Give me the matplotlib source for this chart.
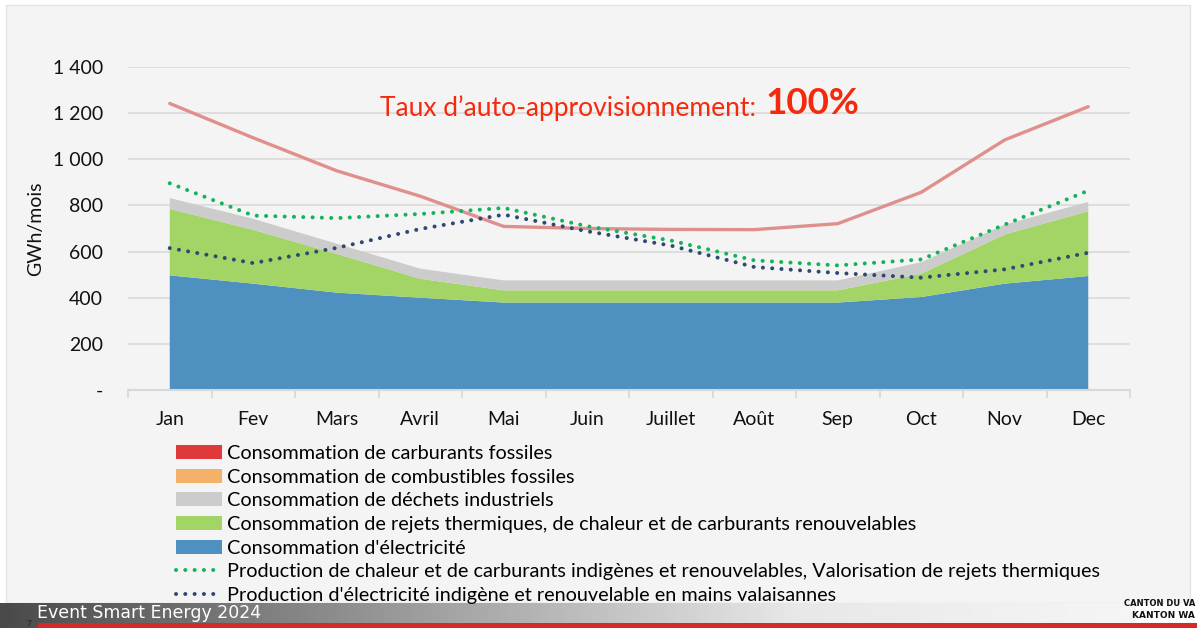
import numpy as np
import matplotlib.pyplot as plt
from matplotlib.colors import LinearSegmentedColormap
from matplotlib.patches import Patch, Rectangle
from matplotlib.lines import Line2D

months = ["Jan", "Fev", "Mars", "Avril", "Mai", "Juin", "Juillet", "Août", "Sep", "Oct", "Nov", "Dec"]

# consommation (GWh/mois), empilée
elec = [497, 461, 422, 400, 379, 379, 379, 379, 379, 403, 461, 494]
rejets = [288, 233, 168, 82, 53, 53, 53, 53, 53, 101, 213, 281]
dechets = [47, 48, 44, 44, 43, 43, 43, 43, 43, 50, 43, 40]
combustibles = [0] * 12
carburants = [0] * 12

# courbes
demande = [1242, 1093, 950, 840, 709, 700, 696, 695, 721, 857, 1084, 1228]
prod_chaleur = [896, 756, 745, 763, 789, 710, 648, 562, 540, 566, 717, 864]
prod_elec = [615, 550, 616, 698, 760, 688, 626, 533, 507, 487, 523, 595]

yticks = [0, 200, 400, 600, 800, 1000, 1200, 1400]
ylabels = ["-", "200", "400", "600", "800", "1 000", "1 200", "1 400"]

c_elec = "#4e90c0"
c_rejets = "#a2d566"
c_dechets = "#cccccc"
c_comb = "#f4b16a"
c_carb = "#e0393a"
c_demande = "#e0908c"
c_chaleur = "#12b35a"
c_prod_elec = "#2e4a70"
dots = (0, (0.01, 2.3))
dot_lw = 2.9

plt.rcParams['font.family'] = ['Lato', 'DejaVu Sans']

fig = plt.figure(figsize=(11.97, 6.28), dpi=100)
fig.patch.set_facecolor("white")

# panneau gris clair
fig.patches.append(Rectangle((6 / 1197, 25 / 628), 1184 / 1197, 598 / 628, transform=fig.transFigure,
                             facecolor="#f4f4f4", edgecolor="#e4e4e4", lw=1, zorder=-10))

ax = fig.add_axes([128 / 1197, 1 - 390 / 628, 1002 / 1197, 323 / 628])
ax.set_facecolor("none")

x = np.arange(len(months))
ax.stackplot(x, elec, rejets, dechets, combustibles, carburants,
             colors=[c_elec, c_rejets, c_dechets, c_comb, c_carb], lw=0, zorder=2)
ax.plot(x, demande, color=c_demande, lw=2.4, zorder=3, solid_capstyle="round")
ax.plot(x, prod_chaleur, color=c_chaleur, lw=dot_lw, ls=dots, dash_capstyle="round", zorder=4)
ax.plot(x, prod_elec, color=c_prod_elec, lw=dot_lw, ls=dots, dash_capstyle="round", zorder=4)

ax.set_xlim(-0.5, 11.5)
ax.set_ylim(0, 1400)
ax.set_yticks(yticks)
ax.set_yticklabels(ylabels, fontsize=14, color="#111111")
ax.set_xticks(x)
ax.set_xticklabels(months, fontsize=14, color="#111111")
ax.set_xticks(np.arange(-0.5, 12, 1), minor=True)
ax.tick_params(axis="x", which="major", length=0, pad=15)
ax.tick_params(axis="x", which="minor", length=6, color="#d8d8d8", width=1.2)
ax.tick_params(axis="y", length=0, pad=18)
ax.grid(axis="y", color="#dedede", lw=1.5, zorder=0)
for s in ["top", "right", "left"]:
    ax.spines[s].set_visible(False)
ax.spines["bottom"].set_color("#d8d8d8")
ax.spines["bottom"].set_linewidth(1.5)
ax.set_ylabel("GWh/mois", fontsize=14, color="#111111", labelpad=6)

fig.text(380 / 1197, 1 - 108 / 628, "Taux d\u2019auto-approvisionnement:", fontsize=19,
         color="#f52a0d", va="center", ha="left")
fig.text(766 / 1197, 1 - 104 / 628, "100%", fontsize=26.5, fontweight="bold",
         color="#f52a0d", va="center", ha="left")

handles = [
    Patch(facecolor=c_carb),
    Patch(facecolor=c_comb),
    Patch(facecolor=c_dechets),
    Patch(facecolor=c_rejets),
    Patch(facecolor=c_elec),
    Line2D([], [], color=c_chaleur, lw=dot_lw, ls=dots, dash_capstyle="round"),
    Line2D([], [], color=c_prod_elec, lw=dot_lw, ls=dots, dash_capstyle="round"),
]
labels = [
    "Consommation de carburants fossiles",
    "Consommation de combustibles fossiles",
    "Consommation de déchets industriels",
    "Consommation de rejets thermiques, de chaleur et de carburants renouvelables",
    "Consommation d'électricité",
    "Production de chaleur et de carburants indigènes et renouvelables, Valorisation de rejets thermiques",
    "Production d'électricité indigène et renouvelable en mains valaisannes",
]
fig.legend(handles, labels, loc="upper left", bbox_to_anchor=(176 / 1197, 1 - 445 / 628),
           frameon=False, fontsize=14.3, handlelength=2.3, handleheight=0.7,
           handletextpad=0.25, labelspacing=0.335, borderpad=0, borderaxespad=0)

# bandeau du bas
bax = fig.add_axes([0, 0, 1, 25 / 628])
grad = np.linspace(0, 1, 400).reshape(1, -1)
cmap = LinearSegmentedColormap.from_list("g", ["#4a4a4a", "#9a9a9a", "#e8e8e8", "#f8f8f8"])
bax.imshow(grad, aspect="auto", cmap=cmap, extent=[0, 1, 0, 1])
bax.add_patch(Rectangle((38 / 1197, 0.02), 1, 5 / 25, color="#d42a2a", lw=0))
bax.add_patch(Rectangle((1136 / 1197, 6 / 25), 61 / 1197, 1, color="white", lw=0))
bax.set_xlim(0, 1)
bax.set_ylim(0, 1)
bax.axis("off")
fig.text(37 / 1197, 1 - 613 / 628, "Event Smart Energy 2024", fontsize=12.5, color="white",
         family="Liberation Sans Narrow", va="center", ha="left")
fig.text(27 / 1197, 1 - 623 / 628, "7", fontsize=6, color="#222222", va="center", ha="left")
fig.text(1195 / 1197, 1 - 604 / 628, "CANTON DU VA", fontsize=6, color="#111111",
         family="Liberation Sans Narrow", fontweight="bold", va="center", ha="right")
fig.text(1195 / 1197, 1 - 616 / 628, "KANTON WA", fontsize=6.5, color="#111111",
         family="Liberation Sans Narrow", fontweight="bold", va="center", ha="right")

fig.savefig("out.png", dpi=100)
